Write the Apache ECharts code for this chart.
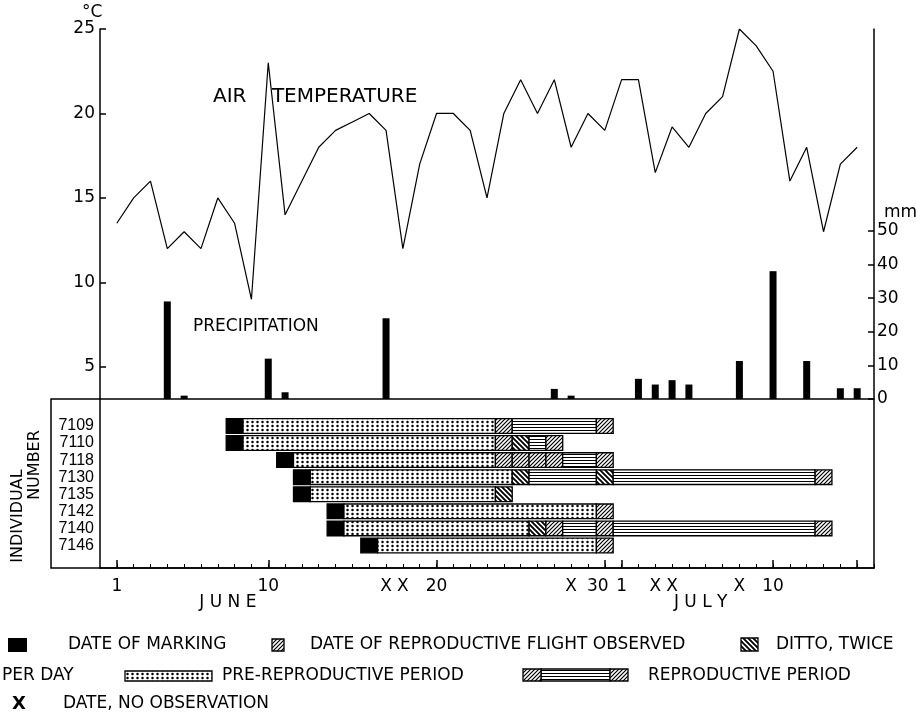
<!DOCTYPE html>
<html><head><meta charset="utf-8">
<script src="https://cdn.jsdelivr.net/npm/echarts@6/dist/echarts.min.js"></script>
<style>html,body{margin:0;padding:0;background:#fff}#c{width:916px;height:712px}</style>
</head><body><div id="c"></div>
<script>
// ---- data ----
const tempDays = [1,2,3,4,5,6,7,8,9,10,11,12,13,14,15,16,17,18,19,20,21,22,23,24,25,26,27,28,29,30,31,32,33,34,35,36,37,38,39,40,41,42,43,44,45];
const temperature = [13.5,15,16,12,13,12,15,13.5,9,23,14,16,18,19,19.5,20,19,12,17,20,20,19,15,20,22,20,22,18,20,19,22,22,16.5,19.2,18,20,21,25,24,22.5,16,18,13,17,18];
const precipDays = [4,5,10,11,17,27,28,32,33,34,35,38,40,42,44,45];
const precipMm = [29,1,12,2,24,3,1,6,4.3,5.6,4.3,11.3,38,11.3,3.2,3.2];
const individuals = ['7109','7110','7118','7130','7135','7142','7140','7146'];
const markDay = [8,8,11,12,12,14,14,16];
const preEndDay = [23,23,23,24,23,29,25,29];
const flightDays = [[24,30],[24,27],[24,25,26,27,30],[43],[],[30],[27,30,43],[30]];
const twiceDays = [[],[25],[],[25,30],[24],[],[26],[]];
const lastDay = [30,27,30,43,24,30,43,30];
const noObsDays = [17,18,28,33,34,38];
const dayTickValues = [1,10,20,30,31,40];
const dayTickLabels = ['1','10','20','30','1','10'];
const majorTickDays = [1,10,20,30,31,40,45];
const tempTicks = [5,10,15,20,25];
const precipTicks = [0,10,20,30,40,50];
const monthNames = ['J U N E','J U L Y'];
const monthCenters = [7.6,35.7];

// ---- patterns ----
function pat(w,h,draw){const c=document.createElement('canvas');c.width=w;c.height=h;const g=c.getContext('2d');g.fillStyle='#fff';g.fillRect(0,0,w,h);g.strokeStyle='#000';g.fillStyle='#000';draw(g);return {image:c,repeat:'repeat'};}
const fills = [
  '#000',
  pat(5,4,g=>{g.beginPath();g.arc(2.5,2,1.25,0,Math.PI*2);g.fill();}),
  pat(4,4,g=>{g.lineWidth=1.2;g.beginPath();g.moveTo(0,4);g.lineTo(4,0);g.moveTo(-1,1);g.lineTo(1,-1);g.moveTo(3,5);g.lineTo(5,3);g.stroke();}),
  pat(5,5,g=>{g.lineWidth=1.9;g.beginPath();g.moveTo(0,0);g.lineTo(5,5);g.moveTo(-1,4);g.lineTo(1,6);g.moveTo(4,-1);g.lineTo(6,1);g.stroke();}),
  pat(4,3,g=>{g.fillRect(0,1,4,1);})
];

// ---- segments from the arrays ----
const segments = [];
individuals.forEach((id,i)=>{
  segments.push([markDay[i]-0.5, markDay[i]+0.5, i, 0]);
  segments.push([markDay[i]+0.5, preEndDay[i]+0.5, i, 1]);
  let run = null;
  for (let d = preEndDay[i]+1; d <= lastDay[i]; d++) {
    const t = flightDays[i].includes(d) ? 2 : (twiceDays[i].includes(d) ? 3 : 4);
    if (t === 4) { if (run === null) run = d; }
    else {
      if (run !== null) { segments.push([run-0.5, d-0.5, i, 4]); run = null; }
      segments.push([d-0.5, d+0.5, i, t]);
    }
  }
});

const FONT = '"DejaVu Sans", sans-serif';
const axisLabelValues = dayTickValues.concat(noObsDays).sort((a,b)=>a-b);

const chart = echarts.init(document.getElementById('c'), null, {renderer:'canvas'});
chart.setOption({
  animation:false,
  backgroundColor:'#fff',
  textStyle:{fontFamily:FONT, color:'#000'},
  grid:[
    {left:100, top:29, width:774, height:370},
    {left:100, top:399, width:774, height:169}
  ],
  xAxis:[
    {type:'value', gridIndex:0, min:0, max:46, show:false},
    {type:'value', gridIndex:1, min:0, max:46, position:'bottom',
      axisLine:{show:true, onZero:false, lineStyle:{color:'#000', width:1.5}},
      axisTick:{show:true, inside:true, length:8, customValues:majorTickDays, lineStyle:{color:'#000', width:1.5}},
      axisLabel:{show:true, customValues:axisLabelValues, margin:10, fontSize:17, color:'#000', fontFamily:FONT,
        formatter:v=>{ if(noObsDays.includes(v)) return 'X'; const k=dayTickValues.indexOf(v); if(v===30) return '{s|'+dayTickLabels[k]+'}'; return dayTickLabels[k]; },
        rich:{s:{fontSize:17, fontFamily:FONT, padding:[0,14,0,0]}}},
      splitLine:{show:false}},
    {type:'value', gridIndex:1, min:0, max:46, position:'bottom',
      axisLine:{show:false, onZero:false},
      axisTick:{show:true, inside:true, length:4, customValues:tempDays.concat([46]), lineStyle:{color:'#000', width:1}},
      axisLabel:{show:true, customValues:monthCenters, margin:26, fontSize:17, color:'#000', fontFamily:FONT,
        formatter:v=>monthNames[monthCenters.indexOf(v)]},
      splitLine:{show:false}}
  ],
  yAxis:[
    {type:'value', gridIndex:0, min:3.1, max:25, position:'left',
      axisLine:{show:true, onZero:false, lineStyle:{color:'#000', width:1.5}},
      axisTick:{show:true, inside:true, length:6, customValues:tempTicks, lineStyle:{color:'#000', width:1.5}},
      axisLabel:{customValues:tempTicks, margin:5, fontSize:17, color:'#000', fontFamily:FONT},
      splitLine:{show:false}},
    {type:'value', gridIndex:0, min:0, max:110, position:'right',
      axisLine:{show:true, onZero:false, lineStyle:{color:'#000', width:1.5}},
      axisTick:{show:true, inside:true, length:6, customValues:precipTicks, lineStyle:{color:'#000', width:1.5}},
      axisLabel:{customValues:precipTicks, margin:3, fontSize:17, color:'#000', fontFamily:FONT},
      splitLine:{show:false}},
    {type:'value', gridIndex:1, min:-1.58, max:8.32, inverse:true,
      axisLine:{show:true, onZero:false, lineStyle:{color:'#000', width:1.5}},
      axisTick:{show:false},
      axisLabel:{customValues:[0,1,2,3,4,5,6,7], margin:6, fontSize:16, color:'#000', fontFamily:'"Liberation Sans", sans-serif',
        formatter:v=>individuals[v]},
      splitLine:{show:false}}
  ],
  series:[
    {type:'line', name:'Air temperature', xAxisIndex:0, yAxisIndex:0,
      data:tempDays.map((d,i)=>[d, temperature[i]]),
      showSymbol:false, symbol:'none', lineStyle:{color:'#000', width:1.2}, z:3},
    {type:'bar', name:'Precipitation', xAxisIndex:0, yAxisIndex:1,
      data:precipDays.map((d,i)=>[d, precipMm[i]]),
      barWidth:7, itemStyle:{color:'#000'}},
    {type:'custom', name:'Individuals', xAxisIndex:1, yAxisIndex:2,
      data:segments, encode:{x:[0,1], y:2},
      renderItem:(params, api)=>{
        const s = api.coord([api.value(0), api.value(2)]);
        const e = api.coord([api.value(1), api.value(2)]);
        const h = api.size([0,1])[1]*0.86;
        return {type:'rect', shape:{x:s[0], y:s[1]-h/2, width:e[0]-s[0], height:h},
          style:{fill:fills[api.value(3)], stroke:'#000', lineWidth:1.3}};
      }}
  ],
  graphic:[
    {type:'rect', shape:{x:51, y:399, width:823, height:169}, style:{fill:'none', stroke:'#000', lineWidth:1.5}, z:10},
    {type:'text', x:82, y:13, style:{text:'°C', font:'17px '+FONT, fill:'#000', verticalAlign:'middle'}},
    {type:'text', x:884, y:213, style:{text:'mm', font:'17px '+FONT, fill:'#000', verticalAlign:'middle'}},
    {type:'text', x:213, y:97, style:{text:'AIR    TEMPERATURE', font:'20px '+FONT, fill:'#000', verticalAlign:'middle'}},
    {type:'text', x:193, y:327, style:{text:'PRECIPITATION', font:'17px '+FONT, fill:'#000', verticalAlign:'middle'}},
    {type:'text', x:18, y:516, rotation:Math.PI/2, style:{text:'INDIVIDUAL', font:'16px '+FONT, fill:'#000', align:'center', verticalAlign:'middle'}},
    {type:'text', x:35, y:465, rotation:Math.PI/2, style:{text:'NUMBER', font:'16px '+FONT, fill:'#000', align:'center', verticalAlign:'middle'}},
    // legend
    {type:'rect', shape:{x:8, y:638, width:19, height:14}, style:{fill:fills[0]}},
    {type:'text', x:68, y:645, style:{text:'DATE OF MARKING', font:'17px '+FONT, fill:'#000', verticalAlign:'middle'}},
    {type:'rect', shape:{x:272, y:639, width:12, height:12}, style:{fill:fills[2], stroke:'#000', lineWidth:1.3}},
    {type:'text', x:310, y:645, style:{text:'DATE OF REPRODUCTIVE FLIGHT OBSERVED', font:'17px '+FONT, fill:'#000', verticalAlign:'middle'}},
    {type:'rect', shape:{x:741, y:638, width:17, height:13}, style:{fill:fills[3], stroke:'#000', lineWidth:1.3}},
    {type:'text', x:776, y:645, style:{text:'DITTO, TWICE', font:'17px '+FONT, fill:'#000', verticalAlign:'middle'}},
    {type:'text', x:2, y:676, style:{text:'PER DAY', font:'17px '+FONT, fill:'#000', verticalAlign:'middle'}},
    {type:'rect', shape:{x:125, y:671, width:87, height:10}, style:{fill:fills[1], stroke:'#000', lineWidth:1.3}},
    {type:'text', x:222, y:676, style:{text:'PRE-REPRODUCTIVE PERIOD', font:'17px '+FONT, fill:'#000', verticalAlign:'middle'}},
    {type:'rect', shape:{x:541, y:669, width:69, height:12}, style:{fill:fills[4], stroke:'#000', lineWidth:1.3}},
    {type:'rect', shape:{x:523, y:669, width:18, height:12}, style:{fill:fills[2], stroke:'#000', lineWidth:1.3}},
    {type:'rect', shape:{x:610, y:669, width:18, height:12}, style:{fill:fills[2], stroke:'#000', lineWidth:1.3}},
    {type:'text', x:648, y:676, style:{text:'REPRODUCTIVE PERIOD', font:'17px '+FONT, fill:'#000', verticalAlign:'middle'}},
    {type:'text', x:12, y:704, style:{text:'X', font:'bold 18px '+FONT, fill:'#000', verticalAlign:'middle'}},
    {type:'text', x:63, y:704, style:{text:'DATE, NO OBSERVATION', font:'17px '+FONT, fill:'#000', verticalAlign:'middle'}}
  ]
});
</script>
</body></html>
